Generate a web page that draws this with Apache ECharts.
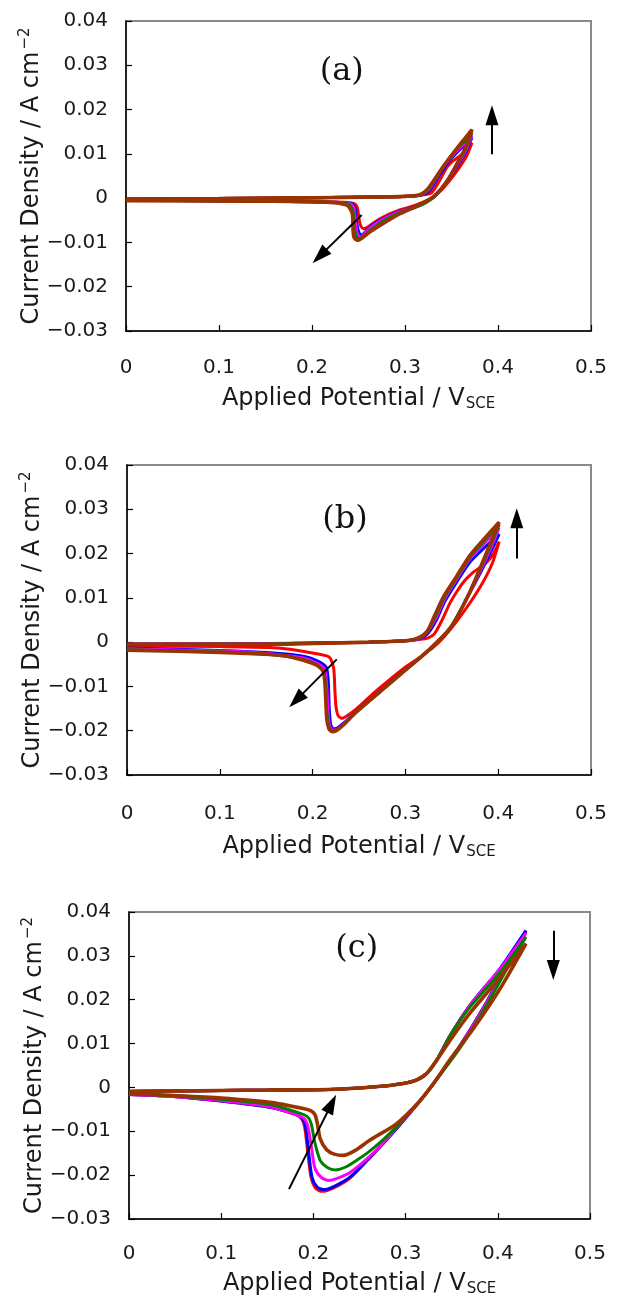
<!DOCTYPE html>
<html>
<head>
<meta charset="utf-8">
<script src="https://cdn.jsdelivr.net/npm/echarts@6/dist/echarts.min.js"></script>
<style>
  html, body { margin: 0; padding: 0; background: #fff; }
  #chart { width: 622px; height: 1298px; }
</style>
</head>
<body>
<div id="chart"></div>
<script>
// axis ticks (same for the three panels)
const xTicks = [0, 0.1, 0.2, 0.3, 0.4, 0.5];
const yTicks = [-0.03, -0.02, -0.01, 0, 0.01, 0.02, 0.03, 0.04];
const curveNames = ['red', 'blue', 'magenta', 'green', 'brown'];

// panel (a): [potential V, current density A/cm2], loop = anodic branch then return branch
const aRed = [[0,-0.0002],[0.1,-0.0001],[0.2,0.0001],[0.28,0.0003],[0.31,0.0005],[0.322,0.0008],[0.329,0.0013],[0.3376,0.0041],[0.3448,0.0069],[0.351,0.0083],[0.3556,0.009],[0.3627,0.0101],[0.3681,0.0113],[0.372,0.0125],
  [0.366,0.0094],[0.358,0.0068],[0.348,0.004],[0.337,0.0014],[0.325,-0.0004],[0.31,-0.0017],[0.295,-0.0026],[0.277,-0.0042],[0.266,-0.0056],[0.2595,-0.0066],[0.2555,-0.0069],[0.2525,-0.0063],[0.2505,-0.0046],[0.2487,-0.0021],[0.245,-0.0012],[0.235,-0.0009],[0.2,-0.0008],[0.1,-0.0006],[0,-0.0005]];
const aBlue = [[0,-0.0002],[0.1,-0.0001],[0.2,0.0001],[0.28,0.0003],[0.31,0.0005],[0.319,0.0008],[0.327,0.0018],[0.338,0.0055],[0.348,0.0085],[0.358,0.0108],[0.366,0.0122],[0.372,0.0137],
  [0.365,0.0103],[0.357,0.0075],[0.346,0.004],[0.333,0.0006],[0.322,-0.0009],[0.31,-0.002],[0.295,-0.0029],[0.277,-0.0046],[0.264,-0.0062],[0.257,-0.0077],[0.2535,-0.0083],[0.2505,-0.0078],[0.248,-0.0055],[0.2465,-0.0025],[0.243,-0.0013],[0.23,-0.001],[0.2,-0.0008],[0.1,-0.0006],[0,-0.0005]];
const aMagenta = [[0,-0.0002],[0.1,-0.0001],[0.2,0.0001],[0.28,0.0003],[0.31,0.0005],[0.318,0.0008],[0.326,0.002],[0.338,0.006],[0.348,0.0088],[0.358,0.0112],[0.366,0.0127],[0.372,0.0142],
  [0.365,0.0106],[0.357,0.0078],[0.346,0.0041],[0.333,0.0006],[0.322,-0.001],[0.31,-0.0021],[0.295,-0.003],[0.277,-0.0047],[0.263,-0.0066],[0.256,-0.0081],[0.252,-0.0088],[0.249,-0.0082],[0.247,-0.006],[0.2455,-0.0027],[0.242,-0.0014],[0.23,-0.001],[0.2,-0.0008],[0.1,-0.0006],[0,-0.0005]];
const aGreen = [[0,-0.0002],[0.1,-0.0001],[0.2,0.0001],[0.28,0.0003],[0.31,0.0005],[0.317,0.0008],[0.3255,0.0021],[0.338,0.0061],[0.348,0.0091],[0.358,0.0116],[0.366,0.0132],[0.372,0.0148],
  [0.365,0.011],[0.358,0.0084],[0.346,0.0042],[0.333,0.0006],[0.322,-0.0011],[0.31,-0.0022],[0.295,-0.0032],[0.277,-0.0051],[0.263,-0.0072],[0.2545,-0.0087],[0.2505,-0.0092],[0.2475,-0.0086],[0.2455,-0.0065],[0.2442,-0.003],[0.24,-0.0015],[0.23,-0.001],[0.2,-0.0008],[0.1,-0.0006],[0,-0.0005]];
const aBrown = [[0,-0.0002],[0.1,-0.0001],[0.2,0.0001],[0.26,0.0002],[0.3,0.0004],[0.316,0.0008],[0.325,0.0022],[0.338,0.0062],[0.347,0.0088],[0.356,0.0113],[0.364,0.0134],[0.372,0.0155],
  [0.366,0.0118],[0.359,0.009],[0.3448,0.0037],[0.3305,0.0003],[0.3233,-0.0006],[0.3125,-0.0018],[0.2946,-0.0035],[0.2767,-0.0057],[0.2624,-0.0076],[0.2545,-0.0089],[0.249,-0.0095],[0.2455,-0.009],[0.2442,-0.0075],[0.2433,-0.0035],[0.2375,-0.0016],[0.216,-0.0009],[0.15,-0.0007],[0,-0.0006]];

// panel (b)
const bRed = [[0,-0.0004],[0.1,-0.0004],[0.154,-0.0003],[0.2,-0.0002],[0.26,0],[0.3,0.0003],[0.315,0.0006],[0.324,0.0009],[0.331,0.0018],[0.34,0.0052],[0.348,0.0088],[0.356,0.0116],[0.364,0.0139],[0.372,0.0156],[0.38,0.0168],[0.388,0.0181],[0.395,0.02],[0.401,0.0227],
  [0.394,0.018],[0.384,0.0137],[0.37,0.009],[0.3553,0.0047],[0.342,0.0013],[0.33,-0.0012],[0.315,-0.0035],[0.2977,-0.006],[0.2726,-0.0103],[0.2575,-0.0131],[0.2475,-0.015],[0.238,-0.0165],[0.2315,-0.0172],[0.2275,-0.0166],[0.2252,-0.0145],[0.2241,-0.0112],[0.2228,-0.006],[0.2195,-0.0038],[0.2152,-0.0031],[0.1756,-0.0016],[0.154,-0.0012],[0.1,-0.001],[0,-0.0008]];
const bBlue = [[0,-0.0005],[0.1,-0.0004],[0.154,-0.0004],[0.2,-0.0002],[0.26,0],[0.3,0.0003],[0.314,0.0007],[0.3235,0.0018],[0.333,0.0048],[0.3425,0.0092],[0.355,0.0135],[0.37,0.0182],[0.386,0.0215],[0.401,0.0244],
  [0.39,0.0195],[0.3696,0.0112],[0.348,0.0031],[0.323,-0.0022],[0.2977,-0.0066],[0.2726,-0.0111],[0.2475,-0.0156],[0.234,-0.0182],[0.2265,-0.0194],[0.2225,-0.0196],[0.2195,-0.0186],[0.218,-0.015],[0.2168,-0.0085],[0.2145,-0.0056],[0.205,-0.0042],[0.19,-0.0032],[0.154,-0.0024],[0.1,-0.0019],[0,-0.0013]];
const bMagenta = [[0,-0.0005],[0.1,-0.0004],[0.154,-0.0004],[0.2,-0.0002],[0.26,0],[0.3,0.0003],[0.313,0.0007],[0.323,0.0021],[0.3325,0.0053],[0.342,0.0096],[0.355,0.0141],[0.37,0.0189],[0.386,0.0225],[0.401,0.0258],
  [0.39,0.0203],[0.3696,0.0113],[0.348,0.0031],[0.323,-0.0022],[0.2977,-0.0067],[0.2726,-0.0112],[0.2475,-0.0157],[0.234,-0.0184],[0.2262,-0.0197],[0.222,-0.0199],[0.2185,-0.019],[0.2165,-0.0155],[0.215,-0.0092],[0.2125,-0.006],[0.203,-0.0046],[0.19,-0.0036],[0.154,-0.0026],[0.1,-0.002],[0,-0.0015]];
const bGreen = [[0,-0.0005],[0.1,-0.0005],[0.154,-0.0004],[0.2,-0.0002],[0.26,0],[0.3,0.0003],[0.3125,0.0008],[0.3229,0.0022],[0.332,0.0057],[0.3415,0.0099],[0.355,0.0145],[0.37,0.0193],[0.386,0.0231],[0.401,0.0266],
  [0.39,0.021],[0.3696,0.0114],[0.348,0.0031],[0.323,-0.0022],[0.2977,-0.0067],[0.2726,-0.0112],[0.2475,-0.0157],[0.233,-0.0187],[0.2255,-0.0199],[0.2215,-0.0201],[0.218,-0.0193],[0.2155,-0.0165],[0.214,-0.0097],[0.2115,-0.0064],[0.203,-0.005],[0.19,-0.0039],[0.154,-0.0028],[0.1,-0.0022],[0,-0.0017]];
const bBrown = [[0,-0.0005],[0.1,-0.0005],[0.154,-0.0005],[0.2,-0.0003],[0.262,0],[0.3,0.0003],[0.312,0.0008],[0.3229,0.0023],[0.3315,0.006],[0.341,0.0102],[0.355,0.0148],[0.3696,0.0196],[0.386,0.0236],[0.401,0.0271],
  [0.39,0.0215],[0.3696,0.0114],[0.348,0.0031],[0.323,-0.0022],[0.2977,-0.0067],[0.2726,-0.0112],[0.2475,-0.0157],[0.232,-0.0189],[0.2245,-0.0201],[0.221,-0.0202],[0.2175,-0.0195],[0.2152,-0.0172],[0.2134,-0.0097],[0.2115,-0.0067],[0.2044,-0.0052],[0.1756,-0.0033],[0.154,-0.0028],[0.1,-0.0023],[0,-0.0018]];

// panel (c)
const cRed = [[0,-0.0009],[0.05,-0.0008],[0.1,-0.0007],[0.15,-0.0006],[0.2253,-0.0004],[0.27,0.0002],[0.2976,0.0009],[0.312,0.0017],[0.323,0.0032],[0.3337,0.0062],[0.3482,0.0118],[0.3698,0.0187],[0.4024,0.027],[0.4306,0.0355],
  [0.4132,0.0292],[0.388,0.0195],[0.359,0.0095],[0.33,0.0008],[0.315,-0.0032],[0.29,-0.0094],[0.2614,-0.016],[0.24,-0.0206],[0.222,-0.0229],[0.2095,-0.0237],[0.2025,-0.023],[0.1975,-0.0205],[0.194,-0.015],[0.1905,-0.009],[0.187,-0.0071],[0.18,-0.0061],[0.153,-0.0045],[0.1,-0.0031],[0.0445,-0.002],[0,-0.0016]];
const cBlue = [[0,-0.0009],[0.05,-0.0008],[0.1,-0.0007],[0.15,-0.0006],[0.2253,-0.0004],[0.27,0.0002],[0.2976,0.0009],[0.312,0.0017],[0.323,0.0032],[0.3337,0.0062],[0.3482,0.0118],[0.3698,0.0187],[0.4024,0.0271],[0.4306,0.0358],
  [0.4132,0.0294],[0.388,0.0195],[0.359,0.0095],[0.33,0.0008],[0.315,-0.0032],[0.29,-0.0094],[0.2614,-0.0159],[0.24,-0.0204],[0.222,-0.0226],[0.211,-0.0233],[0.204,-0.0227],[0.1985,-0.0205],[0.195,-0.015],[0.1915,-0.009],[0.188,-0.0071],[0.18,-0.0061],[0.153,-0.0045],[0.1,-0.0031],[0.0445,-0.002],[0,-0.0016]];
const cMagenta = [[0,-0.0009],[0.05,-0.0008],[0.1,-0.0007],[0.15,-0.0006],[0.2253,-0.0004],[0.27,0.0002],[0.2976,0.0009],[0.312,0.0017],[0.323,0.0032],[0.3337,0.0062],[0.3482,0.0118],[0.3698,0.0187],[0.4024,0.027],[0.4306,0.0352],
  [0.4132,0.029],[0.388,0.0193],[0.359,0.0094],[0.33,0.0008],[0.315,-0.0032],[0.29,-0.0092],[0.2686,-0.0142],[0.2397,-0.0194],[0.225,-0.0208],[0.2165,-0.0212],[0.2085,-0.0205],[0.2015,-0.0183],[0.1975,-0.013],[0.1935,-0.0085],[0.19,-0.0071],[0.182,-0.0063],[0.153,-0.0044],[0.1,-0.003],[0.0445,-0.002],[0,-0.0016]];
const cGreen = [[0,-0.0009],[0.05,-0.0008],[0.1,-0.0007],[0.15,-0.0006],[0.2253,-0.0004],[0.27,0.0002],[0.2976,0.0009],[0.312,0.0017],[0.323,0.0032],[0.3337,0.0062],[0.3482,0.0118],[0.3698,0.0183],[0.4024,0.0262],[0.4306,0.0343],
  [0.413,0.0282],[0.388,0.0188],[0.359,0.009],[0.33,0.0008],[0.315,-0.0032],[0.29,-0.009],[0.2758,-0.0119],[0.26,-0.0147],[0.247,-0.0166],[0.2345,-0.0182],[0.224,-0.0188],[0.2155,-0.0183],[0.2075,-0.0167],[0.2015,-0.0125],[0.1975,-0.0082],[0.193,-0.0066],[0.18,-0.0055],[0.153,-0.0039],[0.1,-0.0027],[0.0445,-0.0019],[0,-0.0015]];
const cBrown = [[0,-0.0009],[0.05,-0.0008],[0.1,-0.0007],[0.15,-0.0006],[0.2253,-0.0004],[0.27,0.0002],[0.2976,0.0009],[0.312,0.0017],[0.323,0.0032],[0.3337,0.0062],[0.35,0.0113],[0.37,0.017],[0.4,0.0245],[0.4306,0.0328],
  [0.4024,0.0225],[0.3734,0.0134],[0.348,0.0063],[0.33,0.0008],[0.315,-0.0032],[0.29,-0.0083],[0.2614,-0.012],[0.245,-0.0144],[0.2324,-0.0155],[0.2225,-0.0152],[0.2144,-0.0142],[0.2075,-0.0118],[0.2045,-0.0085],[0.2017,-0.0062],[0.197,-0.0053],[0.189,-0.0048],[0.153,-0.0034],[0.1,-0.0024],[0.0445,-0.0018],[0,-0.0014]];

// panel letters and trend arrows, in data coordinates
const panelLabels = ['(a)', '(b)', '(c)'];
const labelPos = [[0.232, 0.0285], [0.235, 0.0276], [0.247, 0.0317]];
const arrowsA = [[0.3935, 0.0099, 0.3935, 0.0187], [0.2534, -0.0038, 0.2083, -0.0131]];
const arrowsB = [[0.42, 0.0189, 0.42, 0.028], [0.226, -0.0039, 0.1824, -0.0131]];
const arrowsC = [[0.4602, 0.0357, 0.4602, 0.0268], [0.1735, -0.0232, 0.2198, -0.0037]];

const panels = [
  { curves: [aRed, aBlue, aMagenta, aGreen, aBrown], arrows: arrowsA,
    grid: { left: 126, top: 21, width: 465, height: 310 }, labelMargin: 27, nameGap: 55 },
  { curves: [bRed, bBlue, bMagenta, bGreen, bBrown], arrows: arrowsB,
    grid: { left: 127, top: 465, width: 464, height: 310 }, labelMargin: 29, nameGap: 59 },
  { curves: [cRed, cBlue, cMagenta, cGreen, cBrown], arrows: arrowsC,
    grid: { left: 129, top: 912, width: 461, height: 307 }, labelMargin: 25, nameGap: 52 }
];

const colors = { red: '#ff0000', blue: '#0000ff', magenta: '#ff00ff', green: '#008000', brown: '#993300' };
const font = 'DejaVu Sans';
const textColor = '#1a1a1a';

function fmtX(v) { return v === 0 ? '0' : v.toFixed(1); }
function fmtY(v) {
  if (Math.abs(v) < 1e-9) return '0';
  return (v < 0 ? '\u2212' : '') + Math.abs(v).toFixed(2);
}

const grids = [], xAxes = [], yAxes = [], series = [];

panels.forEach((p, i) => {
  grids.push(Object.assign({ show: true, borderColor: '#8a8a8a', borderWidth: 2, backgroundColor: 'transparent' }, p.grid));

  xAxes.push({
    type: 'value', gridIndex: i, min: xTicks[0], max: xTicks[xTicks.length - 1], interval: 0.1,
    axisLine: { show: true, onZero: false, lineStyle: { color: '#000', width: 1.5 } },
    axisTick: { show: true, inside: true, length: 6, lineStyle: { color: '#000', width: 1.2 } },
    splitLine: { show: false },
    axisLabel: { fontFamily: font, fontSize: 20, color: textColor, margin: p.labelMargin, formatter: fmtX },
    name: '{m|Applied Potential / V}{s|SCE}',
    nameLocation: 'middle', nameGap: p.nameGap, nameMoveOverlap: false,
    nameTextStyle: {
      color: textColor, fontFamily: font, fontSize: 24,
      rich: {
        m: { fontFamily: font, fontSize: 24, color: textColor },
        s: { fontFamily: font, fontSize: 15, color: textColor, verticalAlign: 'bottom', padding: [11, 0, 0, 1] }
      }
    }
  });

  yAxes.push({
    type: 'value', gridIndex: i, min: yTicks[0], max: yTicks[yTicks.length - 1], interval: 0.01,
    axisLine: { show: true, onZero: false, lineStyle: { color: '#000', width: 1.5 } },
    axisTick: { show: true, inside: true, length: 6, lineStyle: { color: '#000', width: 1.2 } },
    splitLine: { show: false },
    axisLabel: { fontFamily: font, fontSize: 20, color: textColor, margin: 18, formatter: fmtY },
    name: '{m|Current Density / A cm}{s|\u22122}',
    nameLocation: 'middle', nameRotate: 90, nameGap: 80, nameMoveOverlap: false,
    nameTextStyle: {
      color: textColor, fontFamily: font, fontSize: 24,
      rich: {
        m: { fontFamily: font, fontSize: 24, color: textColor },
        s: { fontFamily: font, fontSize: 15, color: textColor, verticalAlign: 'top', padding: [0, 0, 13, 2] }
      }
    }
  });

  p.curves.forEach((data, k) => {
    const name = curveNames[k];
    const s = {
      name: name, type: 'line', xAxisIndex: i, yAxisIndex: i,
      data: data, showSymbol: false, symbol: 'none', smooth: 0.25,
      lineStyle: { color: colors[name], width: name === 'brown' ? 3.6 : 3 },
      silent: true, animation: false
    };
    if (name === 'brown') {
      s.markLine = {
        silent: true, animation: false,
        symbol: ['none', 'triangle'],
        label: { show: false },
        lineStyle: { color: '#000', width: 2, type: 'solid' },
        data: p.arrows.map(a => [
          { coord: [a[0], a[1]], symbol: 'none' },
          { coord: [a[2], a[3]], symbol: 'triangle', symbolSize: [13, 20] }
        ])
      };
      s.markPoint = {
        silent: true, animation: false, symbol: 'circle', symbolSize: 0,
        data: [{ coord: labelPos[i] }],
        label: { show: true, position: 'inside', formatter: panelLabels[i],
                 fontFamily: 'DejaVu Serif', fontSize: 32, color: '#111' }
      };
    }
    series.push(s);
  });
});

const chart = echarts.init(document.getElementById('chart'), null, { renderer: 'canvas' });
chart.setOption({
  backgroundColor: '#fff',
  animation: false,
  grid: grids,
  xAxis: xAxes,
  yAxis: yAxes,
  series: series
});
</script>
</body>
</html>
